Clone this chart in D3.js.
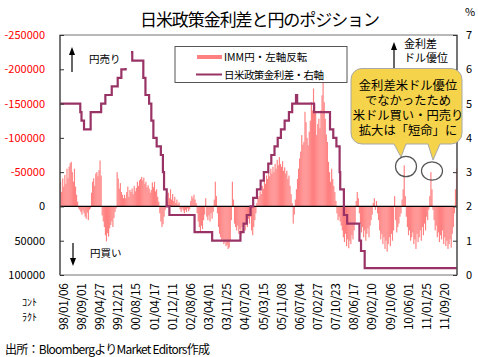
<!DOCTYPE html>
<html><head><meta charset="utf-8">
<script src="https://cdn.jsdelivr.net/npm/d3@7"></script>
<style>
body{margin:0;background:#fff;}
svg{display:block;}
text{font-family:"Noto Sans CJK JP","Noto Sans",sans-serif;}
</style>
</head><body>
<svg id="c" width="478" height="357"></svg>
<script>
// ---------- DATA ----------
// IMM yen net position (thousand contracts, biweekly from start date; negative = yen short, drawn upward)
const startDate = "1998-01-06";
const immNet = [
 -36,-21,-41,-29,-46,-33,-55,-41,-58,-63,-65,-50,-36,-55,-29,-17,-7,3,
 5,8,12,6,10,15,18,9,20,5,3,
 -20,-36,-41,-30,-48,-50,-44,-53,-67,-45,
 13,22,30,42,51,39,44,32,27,22,30,17,8,3,
 -50,-41,-26,-34,-21,-17,-12,
 -17,-12,-21,-29,-14,-24,-21,-26,-18,-30,-22,-27,-36,-30,-38,-40,
 -43,-38,-42,-33,-36,-28,
 -31,-26,-20,-24,-35,-28,-36,-22,-25,-14,-7,
 10,22,30,26,15,5,
 -15,-8,-20,-12,-25,-10,-18,-8,-14,-5,-10,-3,-6,
 4,8,3,6,10,5,8,3,7,4,
 -8,-15,-12,-17,
 -10,-5,10,22,30,37,28,33,20,12,-12,
 15,20,13,22,10,18,8,-10,-36,-15,10,
 30,40,45,50,48,55,52,58,56,62,60,50,
 20,-36,-10,25,30,
 35,28,40,33,42,30,38,25,35,22,30,18,25,15,
 35,42,30,20,10,-5,-12,
 -15,-22,-18,-30,-26,-38,-33,-45,-40,-50,-44,-55,-48,-58,-50,-62,-55,-68,-60,-72,
 -62,-58,-66,-52,-57,-48,-52,-40,-45,-30,-18,-5,25,
 12,-10,-25,-40,
 -55,-70,-80,-104,-90,-94,-138,-123,-100,-89,-109,-125,-152,-140,-172,-150,-138,-104,-120,-128,
 -114,-140,-162,-187,-152,-128,-105,-94,-65,-50,-36,-55,-40,-30,-21,-8,
 10,20,15,22,28,35,
 45,52,40,58,48,61,50,55,42,48,35,25,
 -8,-21,-12,10,
 25,38,30,45,35,50,40,32,45,28,20,12,
 -5,-12,5,-8,10,
 20,35,48,40,55,45,62,50,66,55,45,58,40,50,35,-15,20,38,30,25,15,10,-10,-25,-60,-15,
 15,30,42,35,50,45,38,55,48,62,40,52,45,35,50,30,42,25,35,15,20,5,-15,
 -50,-25,5,
 20,35,28,45,38,52,42,48,35,55,45,58,50,62,55,48,60,40,30,10,
 -25,-55
];
// US-Japan policy rate differential (%), step changes
const rateDates = ["1998-01-06","1998-09-29","1998-10-15","1998-11-17","1999-02-12","1999-06-30","1999-08-24","1999-11-16",
 "2000-02-02","2000-03-21","2000-05-16","2000-08-11","2001-01-03","2001-01-31","2001-03-20","2001-04-18","2001-05-15",
 "2001-06-27","2001-08-21","2001-09-17","2001-10-02","2001-11-06","2001-12-11","2002-11-06","2003-06-25","2004-06-30",
 "2004-08-10","2004-09-21","2004-11-10","2004-12-14","2005-02-02","2005-03-22","2005-05-03","2005-06-30","2005-08-09",
 "2005-09-20","2005-11-01","2005-12-13","2006-01-31","2006-03-28","2006-05-10","2006-06-29","2006-07-14","2007-02-21",
 "2007-09-18","2007-10-31","2007-12-11","2008-01-22","2008-01-30","2008-03-18","2008-04-30","2008-10-08","2008-10-29",
 "2008-12-16"];
const rateValues = [5.0,4.75,4.5,4.25,4.75,5.0,5.25,5.5,
 5.75,6.0,6.5,6.25,5.75,5.25,5.0,4.5,4.0,
 3.75,3.5,3.0,2.5,2.0,1.75,1.25,1.0,1.25,
 1.5,1.75,2.0,2.25,2.5,2.75,3.0,3.25,3.5,
 3.75,4.0,4.25,4.5,4.75,5.0,5.25,5.0,4.75,
 4.25,4.0,3.75,3.0,2.5,1.75,1.5,1.0,0.7,
 0.2];
const xTickLabels = ["98/01/06","98/09/01","99/04/27","99/12/21","00/08/15","01/04/17","01/12/11","02/08/06",
 "03/04/01","03/11/25","04/07/20","05/03/15","05/11/08","06/07/04","07/02/27","07/10/23","08/06/17",
 "09/02/10","09/10/06","10/06/01","11/01/25","11/09/20"];
const leftTicks = [-250000,-200000,-150000,-100000,-50000,0,50000,100000];
const rightTicks = [0,1,2,3,4,5,6,7];

// ---------- LAYOUT ----------
const L = 60, R = 457, T = 35, B = 275;
const BAR = "#ff8080", LINE = "#993366";
const svg = d3.select("#c");
const parse = d3.timeParse("%Y-%m-%d");
const parseLbl = d3.timeParse("%y/%m/%d");
const t0 = parse(startDate);
const dates = immNet.map((v, i) => d3.timeDay.offset(t0, 14 * i));
const tEnd = d3.timeDay.offset(t0, 14 * immNet.length);

const x = d3.scaleTime().domain([t0, tEnd]).range([L, R]);
const yL = d3.scaleLinear().domain([-250000, 100000]).range([T, B]);
const yR = d3.scaleLinear().domain([0, 7]).range([B, T]);

// bars
svg.append("g").selectAll("rect").data(immNet).join("rect")
  .attr("x", (d, i) => x(dates[i]))
  .attr("width", (d, i) => x(d3.timeDay.offset(dates[i], 14)) - x(dates[i]) + 0.1)
  .attr("y", d => Math.min(yL(d * 1000), yL(0)))
  .attr("height", d => Math.abs(yL(d * 1000) - yL(0)))
  .attr("fill", BAR);

// zero line
svg.append("line").attr("x1", L).attr("x2", R).attr("y1", yL(0)).attr("y2", yL(0))
  .attr("stroke", "#000").attr("stroke-width", 1.2);

// rate line
const ratePts = rateDates.map((d, i) => ({date: parse(d), v: rateValues[i]}));
ratePts.push({date: tEnd, v: rateValues[rateValues.length - 1]});
svg.append("path").datum(ratePts)
  .attr("d", d3.line().x(d => x(d.date)).y(d => yR(d.v)).curve(d3.curveStepAfter))
  .attr("fill", "none").attr("stroke", LINE).attr("stroke-width", 2.2);

// frame
svg.append("rect").attr("x", L).attr("y", T).attr("width", R - L).attr("height", B - T)
  .attr("fill", "none").attr("stroke", "#8a8a8a").attr("stroke-width", 1.2);
svg.append("line").attr("x1", L).attr("x2", L).attr("y1", T).attr("y2", B).attr("stroke", "#333");
svg.append("line").attr("x1", R).attr("x2", R).attr("y1", T).attr("y2", B).attr("stroke", "#333");

// left axis
const ax = svg.append("g").attr("transform", `translate(${L},0)`)
  .call(d3.axisLeft(yL).tickValues(leftTicks).tickSizeInner(-4).tickSizeOuter(0).tickPadding(15).tickFormat(d => String(d)));
ax.select(".domain").remove();
ax.selectAll("line").attr("stroke", "#333");
ax.selectAll("text").attr("font-family", "Liberation Sans, Arial, sans-serif").attr("font-size", 11)
  .attr("fill", d => d < 0 ? "#ff0000" : "#000");

// right axis
const ay = svg.append("g").attr("transform", `translate(${R},0)`)
  .call(d3.axisRight(yR).tickValues(rightTicks).tickSizeInner(-4).tickSizeOuter(0).tickPadding(9).tickFormat(d3.format("d")));
ay.select(".domain").remove();
ay.selectAll("line").attr("stroke", "#333");
ay.selectAll("text").attr("font-family", "Liberation Sans, Arial, sans-serif").attr("font-size", 11).attr("fill", "#000");
svg.append("text").attr("x", 465).attr("y", 16).attr("font-family", "Liberation Sans, Arial, sans-serif")
  .attr("font-size", 11).text("%");

// x labels
const axx = svg.append("g")
  .call(d3.axisBottom(x).tickValues(xTickLabels.map(parseLbl)).tickSize(0).tickFormat((d, i) => xTickLabels[i]));
axx.select(".domain").remove();
axx.selectAll("text")
  .attr("y", 0).attr("dy", null)
  .attr("transform", "translate(1.5,283) rotate(-90)")
  .attr("text-anchor", "end").attr("dominant-baseline", "central")
  .attr("font-family", "Liberation Sans, Arial, sans-serif").attr("font-size", 12)
  .attr("textLength", 47).attr("fill", "#000");

svg.append("text").attr("x", 22).attr("y", 306).attr("font-size", 10).text("ｺﾝﾄ");
svg.append("text").attr("x", 22).attr("y", 321).attr("font-size", 10).text("ﾗｸﾄ");

// title
svg.append("text").attr("x", 260).attr("y", 26).attr("text-anchor", "middle")
  .attr("font-size", 17).attr("textLength", 240).text("日米政策金利差と円のポジション");

// source
svg.append("text").attr("x", 5).attr("y", 354).attr("font-size", 12).attr("textLength", 205)
  .text("出所：BloombergよりMarket Editors作成");

// 円売り / 円買い annotations
svg.append("rect").attr("x", 84).attr("y", 44).attr("width", 47).attr("height", 24).attr("fill", "#fff");
svg.append("text").attr("x", 89).attr("y", 63).attr("font-size", 10.5).text("円売り");
svg.append("text").attr("x", 90).attr("y", 257).attr("font-size", 10.5).text("円買い");
function arrow(xc, y1, y2) { // y1 = tip
  const dir = y2 > y1 ? 1 : -1;
  svg.append("line").attr("x1", xc).attr("x2", xc).attr("y1", y1 + dir * 5).attr("y2", y2)
    .attr("stroke", "#000").attr("stroke-width", 1.2);
  svg.append("path").attr("d", `M${xc},${y1} L${xc - 3},${y1 + dir * 8} L${xc + 3},${y1 + dir * 8} Z`).attr("fill", "#000");
}
arrow(72, 47, 72);
arrow(73, 266, 243);
arrow(394, 42, 68);
svg.append("text").attr("x", 404).attr("y", 48).attr("font-size", 11).text("金利差");
svg.append("text").attr("x", 404).attr("y", 62).attr("font-size", 11).text("ドル優位");

// legend
svg.append("rect").attr("x", 175).attr("y", 46.5).attr("width", 172).attr("height", 36)
  .attr("fill", "#fff").attr("stroke", "#555").attr("stroke-width", 1);
svg.append("line").attr("x1", 197).attr("x2", 222).attr("y1", 57).attr("y2", 57).attr("stroke", BAR).attr("stroke-width", 4);
svg.append("text").attr("x", 224).attr("y", 61).attr("font-size", 10.5).text("IMM円・左軸反転");
svg.append("line").attr("x1", 196).attr("x2", 222).attr("y1", 74.5).attr("y2", 74.5).attr("stroke", LINE).attr("stroke-width", 2);
svg.append("text").attr("x", 224).attr("y", 78.5).attr("font-size", 10.5).attr("textLength", 100).text("日米政策金利差・右軸");

// callout bubble
svg.append("path")
  .attr("d", "M362,68.5 H451 A11,11 0 0 1 462,79.5 V133 A11,11 0 0 1 451,144 H440 L433,160 L428,144 H406 L401,157 L394,144 H362 A11,11 0 0 1 351,133 V79.5 A11,11 0 0 1 362,68.5 Z")
  .attr("fill", "#f5d34b").attr("stroke", "#a8a8a8").attr("stroke-width", 1);
const bubbleLines = ["金利差米ドル優位", "でなかったため", "米ドル買い・円売り", "拡大は「短命」に"];
bubbleLines.forEach((s, i) => {
  svg.append("text").attr("x", 408).attr("y", 89.5 + i * 15).attr("text-anchor", "middle")
    .attr("font-size", 12.3).text(s);
});
svg.append("ellipse").attr("cx", 406).attr("cy", 166.5).attr("rx", 10.5).attr("ry", 10.2)
  .attr("fill", "none").attr("stroke", "#555").attr("stroke-width", 1.2);
svg.append("ellipse").attr("cx", 432).attr("cy", 171).attr("rx", 10.5).attr("ry", 9.2)
  .attr("fill", "none").attr("stroke", "#555").attr("stroke-width", 1.2);
</script>
</body></html>
